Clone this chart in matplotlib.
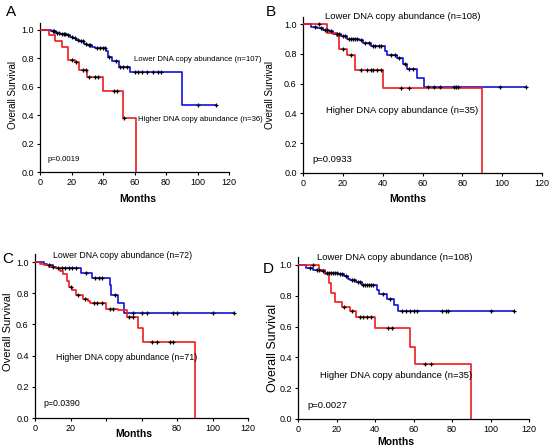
import numpy as np
import matplotlib
matplotlib.use('Agg')
import matplotlib.pyplot as plt

plt.rcParams['font.family'] = ['Liberation Sans', 'DejaVu Sans']

# panel A
a_low_t = [0, 7, 10, 13, 17, 19, 21, 23, 25, 28, 30, 33, 35, 42, 43, 46, 50, 57, 90, 112]
a_low_s = [1.0, 0.99, 0.98, 0.97, 0.96, 0.95, 0.94, 0.93, 0.92, 0.90, 0.89, 0.88, 0.87, 0.85, 0.81, 0.78, 0.74, 0.70, 0.47, 0.47]
a_low_c = [8, 9, 11, 12, 14, 15, 16, 18, 20, 22, 24, 26, 27, 29, 31, 32, 36, 38, 40, 41, 44, 48, 51, 53, 55,
           60, 62, 65, 68, 72, 75, 77, 100, 112]
a_high_t = [0, 6, 9.5, 14, 18, 22, 25, 30, 40, 52.5, 61, 61]
a_high_s = [1.0, 0.965, 0.92, 0.88, 0.79, 0.77, 0.72, 0.67, 0.57, 0.38, 0.0, 0.0]
a_high_c = [20, 23, 27, 29, 31, 35, 37, 47, 49, 53.5]

# panel B
b_low_t = [0, 4, 7, 10, 13, 15, 19, 22, 28, 30, 34, 41, 42, 47, 50, 52, 57, 61, 112]
b_low_s = [1.0, 0.98, 0.97, 0.96, 0.95, 0.93, 0.92, 0.90, 0.89, 0.87, 0.85, 0.82, 0.79, 0.77, 0.73, 0.70, 0.64, 0.58, 0.58]
b_low_c = [6, 9, 11, 12, 14, 17, 18, 20, 21, 23, 24, 25, 26, 27, 29, 31, 33, 35, 36, 38, 39, 44, 46, 48, 51, 53, 55,
           63, 66, 69, 76, 77, 78, 99, 112]
b_high_t = [0, 12, 17, 18, 22, 26, 40, 90, 90]
b_high_s = [1.0, 0.94, 0.92, 0.83, 0.79, 0.69, 0.57, 0.0, 0.0]
b_high_c = [8, 20, 24, 29, 32, 34, 35, 37, 39, 49, 53]

# panel C
c_low_t = [0, 5, 7, 10, 12, 26, 32, 42, 43, 47, 50, 112]
c_low_s = [1.0, 0.99, 0.98, 0.97, 0.96, 0.93, 0.90, 0.85, 0.79, 0.74, 0.675, 0.675]
c_low_c = [8, 13, 15, 17, 19, 21, 23, 29, 34, 36, 38, 45, 55, 60, 63, 78, 80, 100, 112]
c_high_t = [0, 3, 5, 8, 12, 14, 16, 18, 19, 21, 23, 27, 30, 31, 40, 47, 52, 58, 61, 90, 90]
c_high_s = [1.0, 0.99, 0.98, 0.97, 0.96, 0.94, 0.92, 0.88, 0.84, 0.82, 0.79, 0.76, 0.75, 0.74, 0.70, 0.69, 0.65,
            0.58, 0.49, 0.0, 0.0]
c_high_c = [10, 20, 24, 28, 33, 35, 38, 42, 44, 53, 55, 66, 69, 76, 78]

# panel D
d_low_t = [0, 4, 8, 12, 14, 21, 24, 26, 27, 30, 33, 41, 42, 46, 50, 52, 112]
d_low_s = [1.0, 0.98, 0.97, 0.96, 0.95, 0.94, 0.93, 0.91, 0.90, 0.89, 0.87, 0.84, 0.81, 0.78, 0.74, 0.70, 0.70]
d_low_c = [6, 10, 11, 13, 15, 16, 17, 18, 19, 20, 22, 23, 25, 28, 29, 31, 32, 34, 35, 36, 37, 38, 39, 44, 48,
           54, 56, 58, 60, 62, 75, 77, 78, 100, 112]
d_high_t = [0, 11, 14, 16, 17, 19, 23, 27, 30, 40, 58, 61, 90, 90]
d_high_s = [1.0, 0.97, 0.94, 0.88, 0.82, 0.76, 0.73, 0.70, 0.66, 0.59, 0.47, 0.36, 0.0, 0.0]
d_high_c = [8, 24, 28, 32, 34, 36, 38, 47, 49, 66, 69]

low_labels = ['Lower DNA copy abundance (n=107)', 'Lower DNA copy abundance (n=108)',
              'Lower DNA copy abundance (n=72)', 'Lower DNA copy abundance (n=108)']
high_labels = ['Higher DNA copy abundance (n=36)', 'Higher DNA copy abundance (n=35)',
               'Higher DNA copy abundance (n=71)', 'Higher DNA copy abundance (n=35)']
p_labels = ['p=0.0019', 'p=0.0933', 'p=0.0390', 'p=0.0027']
letters = ['A', 'B', 'C', 'D']

W, H = 550, 446
fig = plt.figure(figsize=(5.5, 4.46), dpi=100)

# axes boxes in pixels: left, right, y of 0.0, pixels per unit
boxes = [(40, 229, 172, 142.3), (303, 542, 173, 149), (35, 248, 418, 156), (298, 529, 419, 154)]
curves = [(a_low_t, a_low_s, a_low_c, a_high_t, a_high_s, a_high_c),
          (b_low_t, b_low_s, b_low_c, b_high_t, b_high_s, b_high_c),
          (c_low_t, c_low_s, c_low_c, c_high_t, c_high_s, c_high_c),
          (d_low_t, d_low_s, d_low_c, d_high_t, d_high_s, d_high_c)]
text_pos = [((60, 0.79), (62, 0.37), (5, 0.09), 5.6),
            ((11, 1.05), (11.5, 0.42), (4.5, 0.09), 6.8),
            ((10.3, 1.04), (12, 0.39), (5, 0.09), 6.3),
            ((10, 1.05), (11.5, 0.28), (4.7, 0.09), 6.8)]
letter_pos = [(6, 12), (266, 12), (2, 259), (263, 269)]
ylab_pos = [(13, 95, 7), (270, 95, 7), (8, 332, 8), (273, 348, 9)]
xlab_pos = [(138, 199), (408, 199), (134, 434), (396, 442)]


def step_value(t, s, x):
    i = np.searchsorted(t, x, side='right') - 1
    return np.array(s)[i]


for k in range(4):
    l, r, y0, ppu = boxes[k]
    ax = fig.add_axes([l / W, 1 - y0 / H, (r - l) / W, 1.05 * ppu / H])
    lt, ls, lc, ht, hs, hc = curves[k]
    ax.plot(lt, ls, drawstyle='steps-post', color='#1010e0', lw=1.2, zorder=2)
    ax.plot(ht, hs, drawstyle='steps-post', color='#ee1c1c', lw=1.2, zorder=3)
    ax.plot(lc, step_value(lt, ls, lc), '+', color='black', ms=3.5, mew=0.9, zorder=4)
    ax.plot(hc, step_value(ht, hs, hc), '+', color='black', ms=3.5, mew=0.9, zorder=4)
    ax.set_xlim(0, 120)
    ax.set_ylim(0, 1.05)
    ax.set_xticks(range(0, 121, 20))
    if k == 2:
        ax.set_xticklabels(['0', '20', '', '', '80', '100', '120'])
    ax.set_yticks(np.arange(0, 1.01, 0.2))
    ax.set_yticklabels(['%.1f' % v for v in np.arange(0, 1.01, 0.2)])
    ax.tick_params(labelsize=6.5, length=2.5, width=0.8, pad=2)
    for sp in ['top', 'right']:
        ax.spines[sp].set_visible(False)
    for sp in ['left', 'bottom']:
        ax.spines[sp].set_linewidth(0.9)
    lowp, highp, pp, fs = text_pos[k]
    ax.text(lowp[0], lowp[1], low_labels[k], fontsize=fs, va='center')
    ax.text(highp[0], highp[1], high_labels[k], fontsize=fs, va='center')
    ax.text(pp[0], pp[1], p_labels[k], fontsize=fs, va='center')
    fig.text(letter_pos[k][0] / W, 1 - letter_pos[k][1] / H, letters[k], fontsize=11, va='center')
    fig.text(ylab_pos[k][0] / W, 1 - ylab_pos[k][1] / H, 'Overall Survival', fontsize=ylab_pos[k][2],
             rotation=90, ha='center', va='center')
    fig.text(xlab_pos[k][0] / W, 1 - xlab_pos[k][1] / H, 'Months', fontsize=7.5,
             fontweight='bold', ha='center', va='center')

fig.savefig('out.png', dpi=100)
